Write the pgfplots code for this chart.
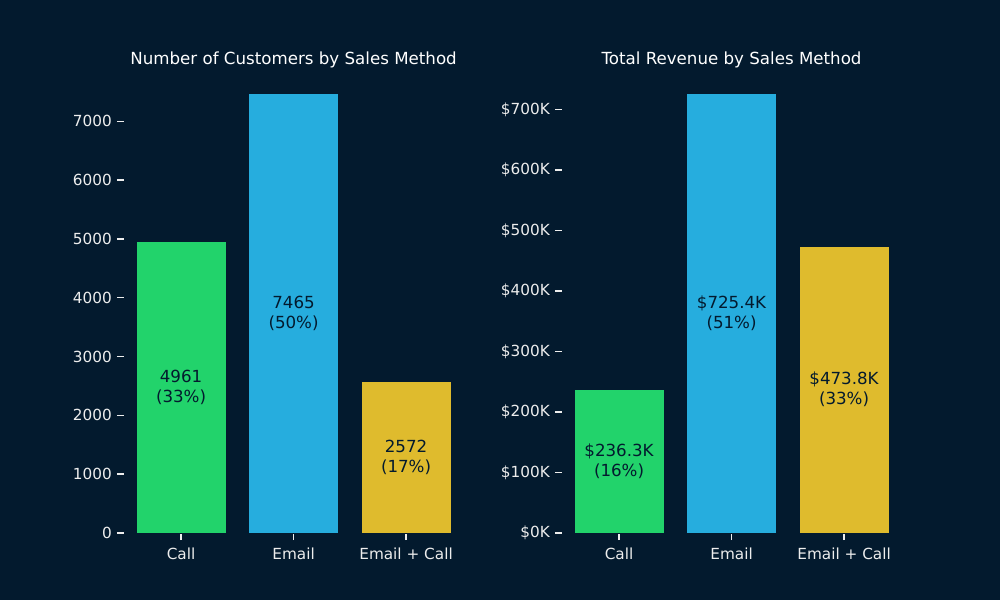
\documentclass[border=0pt]{standalone}
\usepackage{pgfplots}
\pgfplotsset{compat=1.18}
\usepackage{fontspec}
\setmainfont{DejaVu Sans}
\definecolor{bg}{HTML}{031A2E}
\definecolor{cgreen}{HTML}{22D36B}
\definecolor{cblue}{HTML}{26ADDE}
\definecolor{cyellow}{HTML}{DFBB2D}
\definecolor{tickc}{HTML}{EDEDED}
\pgfplotsset{
  mystyle/.style={
    scale only axis,
    width=244.15pt, height=331.92pt,
    axis line style={draw=none},
    tick align=outside,
    xtick pos=bottom, ytick pos=left,
    major tick length=5.2pt,
    major tick style={draw=tickc, line width=1pt},
    tick label style={font=\fontsize{11pt}{13pt}\selectfont, text=tickc},
    xticklabel style={yshift=-2pt},
    xmin=-0.507, xmax=2.507, ymin=0,
    xtick={0,1,2},
    xticklabels={Call,Email,Email + Call},
    title style={font=\fontsize{12pt}{14pt}\selectfont, text=white, at={(0.5,1)}, anchor=south, yshift=-3.4pt, inner sep=0pt},
    clip=false,
  },
  mybar/.style={ybar, bar width=0.8, bar shift=0pt, fill=#1, draw=bg, line width=0.7pt},
  mylab/.style={only marks, mark=none, point meta=explicit symbolic, nodes near coords,
    nodes near coords style={anchor=center, align=center, text=bg, font=\fontsize{12pt}{14.6pt}\selectfont, inner sep=0pt}},
}
\begin{document}
\begin{tikzpicture}
\fill[bg] (0,0) rectangle (720pt,432pt);
\begin{axis}[mystyle, at={(89.28pt,48.24pt)}, anchor=south west,
  ymax=7838.25,
  ytick={0,1000,2000,3000,4000,5000,6000,7000},
  yticklabels={0,1000,2000,3000,4000,5000,6000,7000},
  title={Number of Customers by Sales Method}]
\addplot[mybar=cgreen] coordinates {(0,4961)};
\addplot[mybar=cblue] coordinates {(1,7465)};
\addplot[mybar=cyellow] coordinates {(2,2572)};
\addplot[mylab] coordinates {(0,2480.5) [4961\\(33\%)] (1,3732.5) [7465\\(50\%)] (2,1286) [2572\\(17\%)]};
\end{axis}
\begin{axis}[mystyle, at={(404.64pt,48.24pt)}, anchor=south west,
  ymax=761.67,
  ytick={0,100,200,300,400,500,600,700},
  yticklabels={\$0K,\$100K,\$200K,\$300K,\$400K,\$500K,\$600K,\$700K},
  title={Total Revenue by Sales Method}]
\addplot[mybar=cgreen] coordinates {(0,236.3)};
\addplot[mybar=cblue] coordinates {(1,725.4)};
\addplot[mybar=cyellow] coordinates {(2,473.8)};
\addplot[mylab] coordinates {(0,118.15) [\$236.3K\\(16\%)] (1,362.7) [\$725.4K\\(51\%)] (2,236.9) [\$473.8K\\(33\%)]};
\end{axis}
\end{tikzpicture}
\end{document}
